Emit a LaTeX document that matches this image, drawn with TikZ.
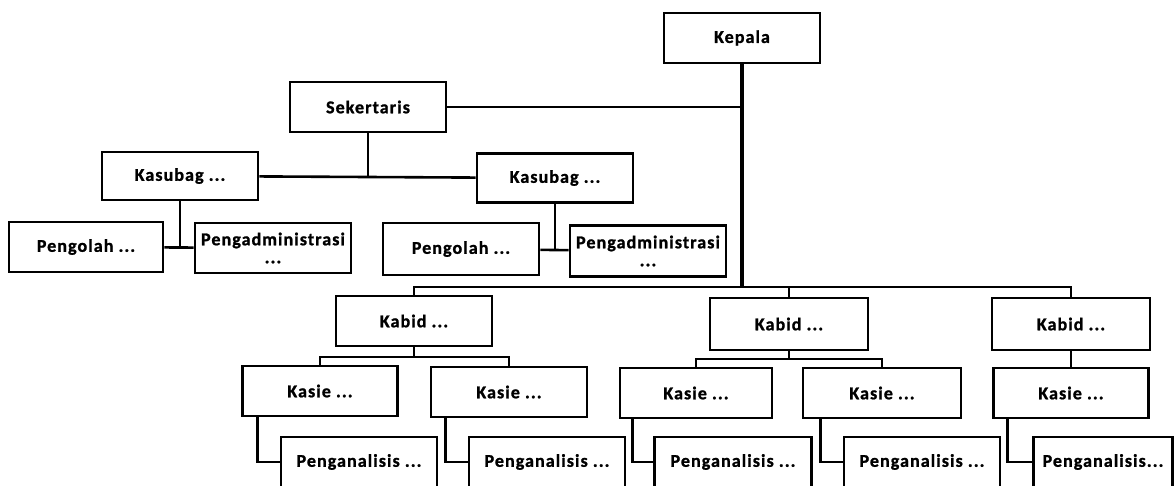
\documentclass[tikz,border=0pt]{standalone}
\usepackage{fontspec}
\setmainfont{Carlito}[LetterSpace=6,BoldFeatures={FakeBold=1.2}]
\begin{document}
\begin{tikzpicture}[x=1pt,y=-1pt,
        unit/.style={draw,line width=2.6pt,minimum width=156pt,minimum height=50pt,
            inner sep=0pt,align=center,font=\fontsize{18}{18}\selectfont\bfseries},
        link/.style={line width=2.6pt}]
            \path[use as bounding box,fill=white] (0,0) rectangle (1175,485);
            \node[unit] (kepala) at (742,38) {Kepala};
            \node[unit] (sek) at (368,107) {Sekertaris};
            \node[unit,minimum height=48pt] (ksb1) at (180,176) {Kasubag ...};
            \node[unit,minimum height=49pt] (ksb2) at (555,178) {Kasubag ...};
            \node[unit,minimum width=154pt] (olah1) at (86,247) {Pengolah ...};
            \node[unit] (adm1) at (273,248) {Pengadministrasi\\...};
            \node[unit,minimum height=52pt] (olah2) at (461,249) {Pengolah ...};
            \node[unit,minimum height=51pt] (adm2) at (648,251) {Pengadministrasi\\...};
            \node[unit] (kabid1) at (414,321) {Kabid ...};
            \node[unit,minimum width=158pt,minimum height=52pt] (kabid2) at (789,324) {Kabid ...};
            \node[unit,minimum width=158pt,minimum height=52pt] (kabid3) at (1071,324) {Kabid ...};
            \node[unit,minimum width=155pt] (kasie1) at (320,391) {Kasie ...};
            \node[unit] (kasie2) at (509,392) {Kasie ...};
            \node[unit,minimum width=152pt] (kasie3) at (696,393) {Kasie ...};
            \node[unit,minimum width=158pt] (kasie4) at (882,393) {Kasie ...};
            \node[unit,minimum width=155pt] (kasie5) at (1071,393) {Kasie ...};
            \node[unit] (anl1) at (359,462) {Penganalisis ...};
            \node[unit] (anl2) at (547,462) {Penganalisis ...};
            \node[unit,minimum width=157pt] (anl3) at (733,462) {Penganalisis ...};
            \node[unit] (anl4) at (922,462) {Penganalisis ...};
            \node[unit,minimum width=139pt] (anl5) at (1103,462) {Penganalisis...};
            \coordinate (bus) at (742,287);
            \coordinate (sekj) at (368,177);
            \coordinate (kb1j) at (414,357);
            \coordinate (kb2j) at (789,359);
            \draw[link,line width=3.4pt] (kepala) -- (bus);
            \draw[link] (sek) -- (sek -| kepala);
            \draw[link] (kabid1.north) |- (bus) -| (kabid2.north);
            \draw[link] (bus) -| (kabid3.north);
            \draw[link] (sek) -- (sekj);
            \draw[link] (ksb1) -- (sekj) -- (ksb2);
            \draw[link] (ksb1) -- (ksb1 |- olah1);
            \draw[link] (olah1) -- (adm1);
            \draw[link] (ksb2) -- (ksb2 |- olah2);
            \draw[link] (olah2) -- (adm2);
            \draw[link] (kabid1) -- (kb1j);
            \draw[link] (kasie1.north) |- (kb1j) -| (kasie2.north);
            \draw[link] (kabid2) -- (kb2j);
            \draw[link] (kasie3.north) |- (kb2j) -| (kasie4.north);
            \draw[link] (kabid3) -- (kasie5);
            \draw[link] ([xshift=16pt]kasie1.south west) |- (anl1.west);
            \draw[link] ([xshift=16pt]kasie2.south west) |- (anl2.west);
            \draw[link] ([xshift=14pt]kasie3.south west) |- (anl3.west);
            \draw[link] ([xshift=19pt]kasie4.south west) |- (anl4.west);
            \draw[link] ([xshift=15pt]kasie5.south west) |- (anl5.west);
        \end{tikzpicture}
\end{document}
